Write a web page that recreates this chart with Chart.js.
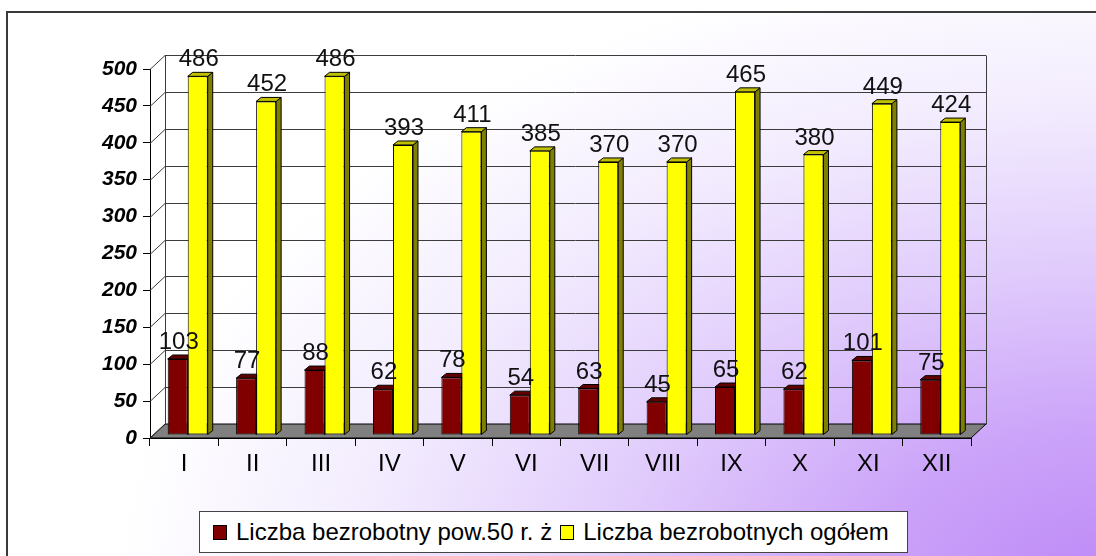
<!DOCTYPE html>
<html>
<head>
<meta charset="utf-8">
<script src="https://cdn.jsdelivr.net/npm/chart.js@4/dist/chart.umd.min.js"></script>
<style>
  html, body { margin:0; padding:0; background:#fff; }
  #wrap { position:relative; width:1096px; height:556px; overflow:hidden; }
  canvas { position:absolute; left:0; top:0; }
  #legend { position:absolute; left:199px; top:511px; width:709px; height:42px; background:#fff;
    border:1px solid #444; box-sizing:border-box; display:flex; align-items:center;
    font-family:"Liberation Sans", Arial, sans-serif; font-size:24px; color:#000; white-space:nowrap; }
  .sw { display:inline-block; width:12px; height:13px; border:1px solid #000; margin:0 9px 0 13px; }
</style>
</head>
<body>
<div id="wrap">
  <canvas id="c" width="1096" height="556"></canvas>
  <div id="legend">
    <span class="sw" style="background:#800000"></span><span>Liczba bezrobotny pow.50 r. ż</span>
    <span class="sw" style="background:#ffff00;margin-left:8px"></span><span>Liczba bezrobotnych ogółem</span>
  </div>
</div>
<script>
const categories = ['I','II','III','IV','V','VI','VII','VIII','IX','X','XI','XII'];
const over50 = [103, 77, 88, 62, 78, 54, 63, 45, 65, 62, 101, 75];
const total = [486, 452, 486, 393, 411, 385, 370, 370, 465, 380, 449, 424];
const seriesNames = ['Liczba bezrobotny pow.50 r. ż', 'Liczba bezrobotnych ogółem'];
const yTicks = [0,50,100,150,200,250,300,350,400,450,500];

const FONT = '"Liberation Sans", Arial, sans-serif';
const DX = 15, DY = -14;      // wall depth
const BX = 5, BY = -4;        // bar depth
const SX = 3.5, SY = -3;      // bars sit slightly behind the front plane
const faces = [
  { side:'#400000', top:'#600000' },
  { side:'#808000', top:'#c0c000' }
];

const depthPlugin = {
  id: 'depth',
  beforeDraw(chart) {
    const ctx = chart.ctx;
    ctx.save();
    ctx.fillStyle = '#fff';
    ctx.fillRect(0, 0, 1096, 556);
    ctx.save();
    ctx.beginPath();
    ctx.rect(7, 12, 1089, 544);
    ctx.clip();
    ctx.translate(1110, 590);
    ctx.scale(1.55, 1);
    const g = ctx.createRadialGradient(0, 0, 0, 0, 0, 640);
    g.addColorStop(0, '#bd88f7');
    g.addColorStop(0.25, '#cba3f9');
    g.addColorStop(0.5, '#e0cbfc');
    g.addColorStop(0.75, '#f2ebfe');
    g.addColorStop(1, '#ffffff');
    ctx.fillStyle = g;
    ctx.fillRect(-1200, -700, 1400, 800);
    ctx.restore();
    ctx.strokeStyle = '#3a3a3a';
    ctx.lineWidth = 2;
    ctx.strokeRect(7, 12, 1200, 700);
    ctx.restore();
  },
  beforeDatasetsDraw(chart) {
    const ctx = chart.ctx, a = chart.chartArea, ys = chart.scales.y;
    ctx.save();
    // floor
    ctx.beginPath();
    ctx.moveTo(a.left, a.bottom);
    ctx.lineTo(a.right, a.bottom);
    ctx.lineTo(a.right + DX, a.bottom + DY);
    ctx.lineTo(a.left + DX, a.bottom + DY);
    ctx.closePath();
    ctx.fillStyle = '#808080';
    ctx.fill();
    ctx.strokeStyle = '#000';
    ctx.lineWidth = 1;
    ctx.stroke();
    // back wall grid + side wall diagonals
    ctx.strokeStyle = '#3c3c3c';
    yTicks.forEach(v => {
      const y = Math.round(ys.getPixelForValue(v)) + 0.5;
      ctx.beginPath();
      ctx.moveTo(a.left, y);
      ctx.lineTo(a.left + DX, y + DY);
      if (v > 0) ctx.lineTo(a.right + DX, y + DY);
      ctx.stroke();
    });
    const yt = Math.round(ys.getPixelForValue(500)) + 0.5;
    const yb = Math.round(ys.getPixelForValue(0)) + 0.5;
    ctx.beginPath();
    ctx.moveTo(a.left + DX + 0.5, yt + DY);
    ctx.lineTo(a.left + DX + 0.5, yb + DY);
    ctx.moveTo(a.right + DX + 0.5, yt + DY);
    ctx.lineTo(a.right + DX + 0.5, yb + DY);
    ctx.stroke();
    ctx.restore();

    // bars: depth faces then (library) front faces, all shifted behind front plane
    ctx.save();
    ctx.translate(SX, SY);
    ctx.strokeStyle = '#000';
    ctx.lineWidth = 1;
    const n = categories.length;
    for (let i = 0; i < n; i++) {
      chart.data.datasets.forEach((ds, di) => {
        const el = chart.getDatasetMeta(di).data[i];
        const w = el.width, l = el.x - w / 2, r = el.x + w / 2, t = el.y, b = el.base;
        ctx.fillStyle = faces[di].side;
        ctx.beginPath();
        ctx.moveTo(r, t); ctx.lineTo(r + BX, t + BY); ctx.lineTo(r + BX, b + BY); ctx.lineTo(r, b);
        ctx.closePath(); ctx.fill(); ctx.stroke();
        ctx.fillStyle = faces[di].top;
        ctx.beginPath();
        ctx.moveTo(l, t); ctx.lineTo(l + BX, t + BY); ctx.lineTo(r + BX, t + BY); ctx.lineTo(r, t);
        ctx.closePath(); ctx.fill(); ctx.stroke();
      });
    }
  },
  afterDatasetsDraw(chart) {
    const ctx = chart.ctx;
    ctx.restore();
    ctx.save();
    ctx.font = '24px ' + FONT;
    ctx.fillStyle = '#111';
    ctx.textAlign = 'center';
    ctx.textBaseline = 'alphabetic';
    chart.data.datasets.forEach((ds, di) => {
      chart.getDatasetMeta(di).data.forEach((el, i) => {
        ctx.fillText(String(ds.data[i]), el.x + SX + 1, el.y + SY - 10);
      });
    });
    ctx.restore();
  }
};

new Chart(document.getElementById('c'), {
  type: 'bar',
  data: {
    labels: categories,
    datasets: [
      { label: seriesNames[0], data: over50, backgroundColor: '#800000', borderColor: '#000', borderWidth: 1, borderSkipped: false },
      { label: seriesNames[1], data: total, backgroundColor: '#ffff00', borderColor: '#000', borderWidth: 1, borderSkipped: false }
    ]
  },
  options: {
    responsive: false,
    animation: false,
    events: [],
    datasets: { bar: { barPercentage: 1, categoryPercentage: 0.585 } },
    layout: { padding: { top: 69, right: 125, left: 0, bottom: 0 } },
    plugins: { legend: { display: false }, tooltip: { enabled: false }, title: { display: false } },
    scales: {
      x: {
        grid: { offset: true, drawOnChartArea: false, tickLength: 8, color: '#000' },
        border: { color: '#000' },
        ticks: { font: { size: 24, family: FONT }, color: '#000', padding: 4 },
        afterFit(s) { s.height = 118; }
      },
      y: {
        min: 0, max: 500,
        afterBuildTicks(s) { s.ticks = yTicks.map(v => ({ value: v })); },
        grid: { drawOnChartArea: false, tickLength: 7, color: '#000' },
        border: { color: '#000' },
        ticks: { font: { size: 21, family: FONT, weight: 'bold', style: 'italic' }, color: '#000', padding: 6 },
        afterFit(s) { s.width = 150; }
      }
    }
  },
  plugins: [depthPlugin]
});
</script>
</body>
</html>
